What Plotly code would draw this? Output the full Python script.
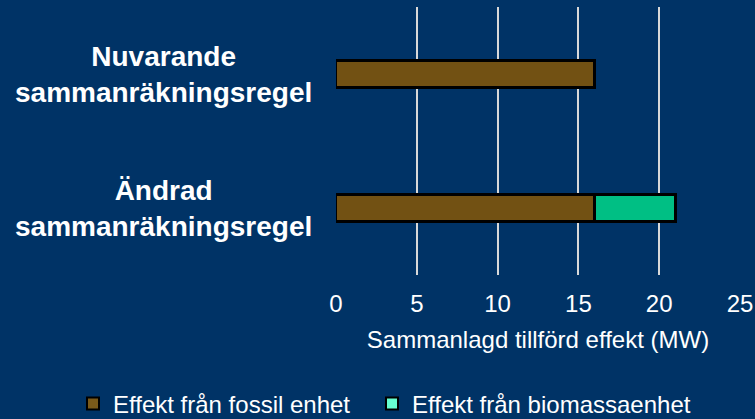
import plotly.graph_objects as go

categories = ["Nuvarande<br>sammanräkningsregel", "Ändrad<br>sammanräkningsregel"]
fossil = [16, 16]
biomass = [0, 5]
x_ticks = [0, 5, 10, 15, 20, 25]
series_names = ["Effekt från fossil enhet", "Effekt från biomassaenhet"]

BG = "#003366"
FONT = "Liberation Sans, Arial, sans-serif"
L, R, T, B = 336, 15, 7, 144
PW = 755 - L - R
PH = 419 - T - B

fig = go.Figure()
fig.add_trace(go.Bar(y=categories, x=fossil, orientation="h", name=series_names[0],
                     marker=dict(color="#725113", line=dict(color="black", width=2.5)),
                     width=0.2, showlegend=False))
fig.add_trace(go.Bar(y=categories, x=biomass, orientation="h", name=series_names[1],
                     marker=dict(color="#00BF84", line=dict(color="black", width=2.5)),
                     width=0.2, showlegend=False))
# legend entries
fig.add_trace(go.Bar(y=[None], x=[None], orientation="h", name=series_names[0], legend="legend",
                     marker=dict(color="#7A5A1A", line=dict(color="black", width=2))))
fig.add_trace(go.Bar(y=[None], x=[None], orientation="h", name=series_names[1], legend="legend2",
                     marker=dict(color="#66FFD0", line=dict(color="black", width=2))))

for c in categories:
    fig.add_annotation(x=(163 - L) / PW, xref="paper", y=c, yref="y", text="<b>" + c + "</b>",
                       showarrow=False, align="center", xanchor="center", yanchor="middle",
                       font=dict(family=FONT, size=28, color="white"))

legend_common = dict(orientation="h", xanchor="left", y=(T + PH - 404) / PH, yanchor="middle",
                     font=dict(size=24, color="white"), bgcolor="rgba(0,0,0,0)", itemwidth=30)

fig.update_layout(
    width=755, height=419,
    barmode="stack",
    paper_bgcolor=BG, plot_bgcolor=BG,
    margin=dict(l=L, r=R, t=T, b=B, autoexpand=False),
    font=dict(family=FONT, color="white", size=24),
    xaxis=dict(range=[0, 25], tickvals=x_ticks, showgrid=True, gridcolor="#D9D9D9", gridwidth=2,
               zeroline=False, showline=False, ticks="", ticklen=0, ticklabelstandoff=12,
               ticklabeloverflow="allow", automargin=False,
               tickfont=dict(size=24, color="white"),
               title=dict(text="Sammanlagd tillförd effekt (MW)", font=dict(size=24, color="white"), standoff=15)),
    yaxis=dict(autorange="reversed", showticklabels=False, showgrid=False, zeroline=False,
               automargin=False, categoryorder="array", categoryarray=categories),
    legend=dict(x=(73 - L) / PW, **legend_common),
    legend2=dict(x=(372 - L) / PW, **legend_common),
)
fig.write_html("out.html", config={"displayModeBar": False},
               post_script="document.body.style.margin='0';document.body.style.overflow='hidden';")
